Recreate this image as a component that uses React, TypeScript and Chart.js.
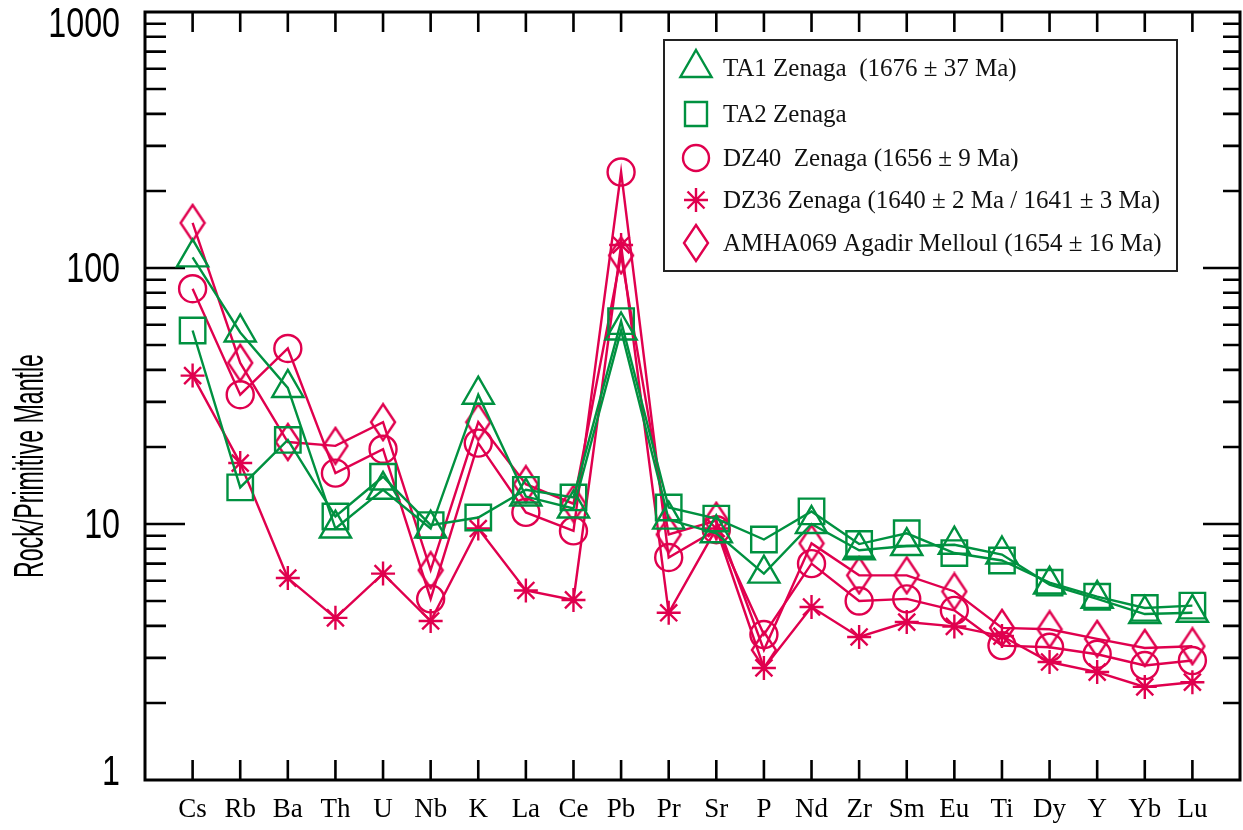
import React, { useEffect, useRef } from 'react';
import { Chart, registerables } from 'chart.js';

Chart.register(...registerables);

const elements = ['Cs', 'Rb', 'Ba', 'Th', 'U', 'Nb', 'K', 'La', 'Ce', 'Pb', 'Pr', 'Sr', 'P', 'Nd', 'Zr', 'Sm', 'Eu', 'Ti', 'Dy', 'Y', 'Yb', 'Lu'];

const ta1 = [110, 56, 34, 9.6, 13.6, 9.6, 32, 12.8, 11.5, 57, 10.4, 9.2, 6.4, 10.0, 7.9, 8.2, 8.3, 7.6, 5.8, 5.1, 4.45, 4.5];
const ta2 = [57, 13.9, 21.3, 10.7, 15.3, 9.9, 10.6, 13.6, 12.7, 62, 11.6, 10.5, 8.7, 11.2, 8.35, 9.2, 7.7, 7.2, 5.9, 5.2, 4.7, 4.8];
const dz40 = [83, 32, 48.5, 15.8, 19.6, 5.1, 20.7, 11.1, 9.4, 237, 7.4, 9.5, 3.7, 7.0, 5.0, 5.1, 4.6, 3.35, 3.3, 3.1, 2.8, 2.93];
const dz36 = [38, 17.3, 6.15, 4.3, 6.4, 4.18, 9.6, 5.5, 5.05, 123, 4.5, 9.6, 2.74, 4.74, 3.62, 4.14, 3.98, 3.65, 2.89, 2.64, 2.31, 2.41];
const amha069 = [150, 42.6, 20.9, 20.2, 25, 6.6, 25, 14.3, 12, 112, 9.1, 10.3, 3.22, 8.4, 6.3, 6.3, 5.45, 3.93, 3.88, 3.56, 3.28, 3.33];

const seriesLabels = [
  'TA1 Zenaga  (1676 ± 37 Ma)',
  'TA2 Zenaga',
  'DZ40  Zenaga (1656 ± 9 Ma)',
  'DZ36 Zenaga (1640 ± 2 Ma / 1641 ± 3 Ma)',
  'AMHA069 Agadir Melloul (1654 ± 16 Ma)',
];

const yTickValues = [1, 10, 100, 1000];
const yDecades = [1, 10, 100];
const yTitle = 'Rock/Primitive Mantle';

const GREEN = '#009140';
const RED = '#E0004E';

function makeDiamond(color: string) {
  const c = document.createElement('canvas');
  c.width = 28;
  c.height = 40;
  const ctx = c.getContext('2d')!;
  ctx.strokeStyle = color;
  ctx.lineWidth = 2.4;
  ctx.beginPath();
  ctx.moveTo(14, 2);
  ctx.lineTo(26, 20);
  ctx.lineTo(14, 38);
  ctx.lineTo(2, 20);
  ctx.closePath();
  ctx.stroke();
  return c;
}

function drawMarker(ctx: CanvasRenderingContext2D, kind: string, x: number, y: number, color: string, diamond: HTMLCanvasElement) {
  ctx.save();
  ctx.strokeStyle = color;
  ctx.lineWidth = 2.4;
  ctx.beginPath();
  if (kind === 'triangle') {
    const r = 18;
    ctx.moveTo(x, y - r);
    ctx.lineTo(x + r * Math.sin((2 * Math.PI) / 3), y - r * Math.cos((2 * Math.PI) / 3));
    ctx.lineTo(x - r * Math.sin((2 * Math.PI) / 3), y - r * Math.cos((2 * Math.PI) / 3));
    ctx.closePath();
    ctx.stroke();
  } else if (kind === 'rect') {
    ctx.rect(x - 11, y - 12, 22, 24);
    ctx.stroke();
  } else if (kind === 'circle') {
    ctx.arc(x, y, 13, 0, Math.PI * 2);
    ctx.stroke();
  } else if (kind === 'star') {
    const r = 12;
    const d = r * Math.SQRT1_2;
    ctx.moveTo(x, y - r); ctx.lineTo(x, y + r);
    ctx.moveTo(x - r, y); ctx.lineTo(x + r, y);
    ctx.moveTo(x - d, y - d); ctx.lineTo(x + d, y + d);
    ctx.moveTo(x - d, y + d); ctx.lineTo(x + d, y - d);
    ctx.stroke();
  } else {
    ctx.drawImage(diamond, x - diamond.width / 2, y - diamond.height / 2);
  }
  ctx.restore();
}

export default function App() {
  const ref = useRef<HTMLCanvasElement>(null);

  useEffect(() => {
    if (!ref.current) return;
    const diamond = makeDiamond(RED);
    const toPts = (arr: number[]) => arr.map((v, i) => ({ x: i, y: v }));
    const kinds = ['triangle', 'rect', 'circle', 'star', 'diamond'];
    const colors = [GREEN, GREEN, RED, RED, RED];

    const framePlugin = {
      id: 'frameTicks',
      beforeDatasetsDraw(chart: any) {
        const { ctx, chartArea: a, scales } = chart;
        const xs = scales.x;
        const ys = scales.y;
        ctx.save();
        ctx.strokeStyle = '#000';
        ctx.lineWidth = 2.6;
        ctx.beginPath();
        elements.forEach((_, i) => {
          const px = xs.getPixelForValue(i);
          ctx.moveTo(px, a.top);
          ctx.lineTo(px, a.top + 20);
          ctx.moveTo(px, a.bottom);
          ctx.lineTo(px, a.bottom - 20);
        });
        yDecades.forEach((d) => {
          for (let m = 1; m <= 9; m++) {
            if (d === 1 && m === 1) continue;
            const py = ys.getPixelForValue(m * d);
            const major = m === 1;
            ctx.moveTo(a.left, py);
            ctx.lineTo(a.left + (major ? 40 : 21), py);
            ctx.moveTo(a.right, py);
            ctx.lineTo(a.right - (major ? 37 : 17), py);
          }
        });
        ctx.stroke();
        ctx.lineWidth = 3;
        ctx.strokeRect(a.left, a.top, a.right - a.left, a.bottom - a.top);

        // y tick labels (condensed sans), positioned from the y scale
        ctx.fillStyle = '#000';
        ctx.font = '43px "Liberation Sans", Arial, sans-serif';
        ctx.textAlign = 'right';
        ctx.textBaseline = 'middle';
        yTickValues.forEach((v) => {
          let py = ys.getPixelForValue(v);
          if (v === 1000) py += 11;
          if (v === 1) py -= 9;
          ctx.save();
          ctx.translate(a.left - 25, py + 2);
          ctx.scale(0.75, 1);
          ctx.fillText(String(v), 0, 0);
          ctx.restore();
        });
        ctx.restore();
      },
      afterDraw(chart: any) {
        const { ctx } = chart;
        // y-axis title (condensed)
        ctx.save();
        ctx.translate(31, 466);
        ctx.rotate(-Math.PI / 2);
        ctx.font = '43px "Liberation Sans", Arial, sans-serif';
        const w = ctx.measureText(yTitle).width;
        ctx.scale(224 / w, 1);
        ctx.fillStyle = '#000';
        ctx.textAlign = 'center';
        ctx.textBaseline = 'middle';
        ctx.fillText(yTitle, 0, 0);
        ctx.restore();

        // legend
        ctx.save();
        ctx.fillStyle = '#fff';
        ctx.fillRect(664, 40, 513, 231);
        ctx.strokeStyle = '#222';
        ctx.lineWidth = 2;
        ctx.strokeRect(664, 40, 513, 231);
        const rows = [68, 114, 158, 200, 243];
        ctx.font = '25px "Liberation Serif", "Times New Roman", serif';
        ctx.fillStyle = '#111';
        ctx.textAlign = 'left';
        ctx.textBaseline = 'middle';
        seriesLabels.forEach((lab, i) => {
          drawMarker(ctx, kinds[i], 696, rows[i], colors[i], diamond);
          ctx.fillText(lab, 723, rows[i] + 1);
        });
        ctx.restore();
      },
    };

    const mk = (i: number, data: number[]) => {
      const kind = kinds[i];
      const radius = kind === 'triangle' ? 18 : kind === 'rect' ? 18 : kind === 'circle' ? 13.5 : kind === 'star' ? 12 : 14;
      return {
        label: seriesLabels[i],
        data: toPts(data),
        borderColor: colors[i],
        backgroundColor: 'rgba(0,0,0,0)',
        borderWidth: 2.4,
        pointStyle: kind === 'diamond' ? (diamond as any) : kind,
        pointRadius: radius,
        pointBorderWidth: 2.4,
        pointBorderColor: colors[i],
        pointBackgroundColor: 'rgba(0,0,0,0)',
        tension: 0,
        fill: false,
      };
    };

    const chart = new Chart(ref.current, {
      type: 'line',
      data: {
        datasets: [mk(0, ta1), mk(1, ta2), mk(2, dz40), mk(3, dz36), mk(4, amha069)] as any,
      },
      options: {
        animation: false,
        responsive: false,
        maintainAspectRatio: false,
        layout: { autoPadding: false, padding: { top: 12, right: 3, left: 0, bottom: 0 } },
        plugins: { legend: { display: false }, tooltip: { enabled: false }, title: { display: false } },
        scales: {
          x: {
            type: 'linear',
            min: -1,
            max: 22,
            border: { display: false },
            grid: { display: false, drawTicks: false },
            afterBuildTicks: (s: any) => {
              s.ticks = elements.map((_, i) => ({ value: i }));
            },
            afterFit: (s: any) => {
              s.height = 50;
              s.paddingLeft = 0;
              s.paddingRight = 0;
            },
            ticks: {
              autoSkip: false,
              maxRotation: 0,
              padding: 14,
              color: '#000',
              font: { family: '"Liberation Serif", "Times New Roman", serif', size: 27 },
              callback: (v: any) => elements[v as number] ?? '',
            },
          },
          y: {
            type: 'logarithmic',
            min: 1,
            max: 1000,
            border: { display: false },
            grid: { display: false, drawTicks: false },
            afterBuildTicks: (s: any) => {
              s.ticks = yTickValues.map((v) => ({ value: v }));
            },
            afterFit: (s: any) => {
              s.width = 145;
              s.paddingTop = 0;
              s.paddingBottom = 0;
            },
            ticks: {
              display: false,
              autoSkip: false,
              callback: (v: any) => String(v),
            },
          },
        },
      },
      plugins: [framePlugin],
    });
    return () => chart.destroy();
  }, []);

  return (
    <div style={{ position: 'absolute', left: 0, top: 0, width: 1243, height: 830, background: '#fff' }}>
      <canvas ref={ref} width={1243} height={830} style={{ display: 'block' }} />
    </div>
  );
}
